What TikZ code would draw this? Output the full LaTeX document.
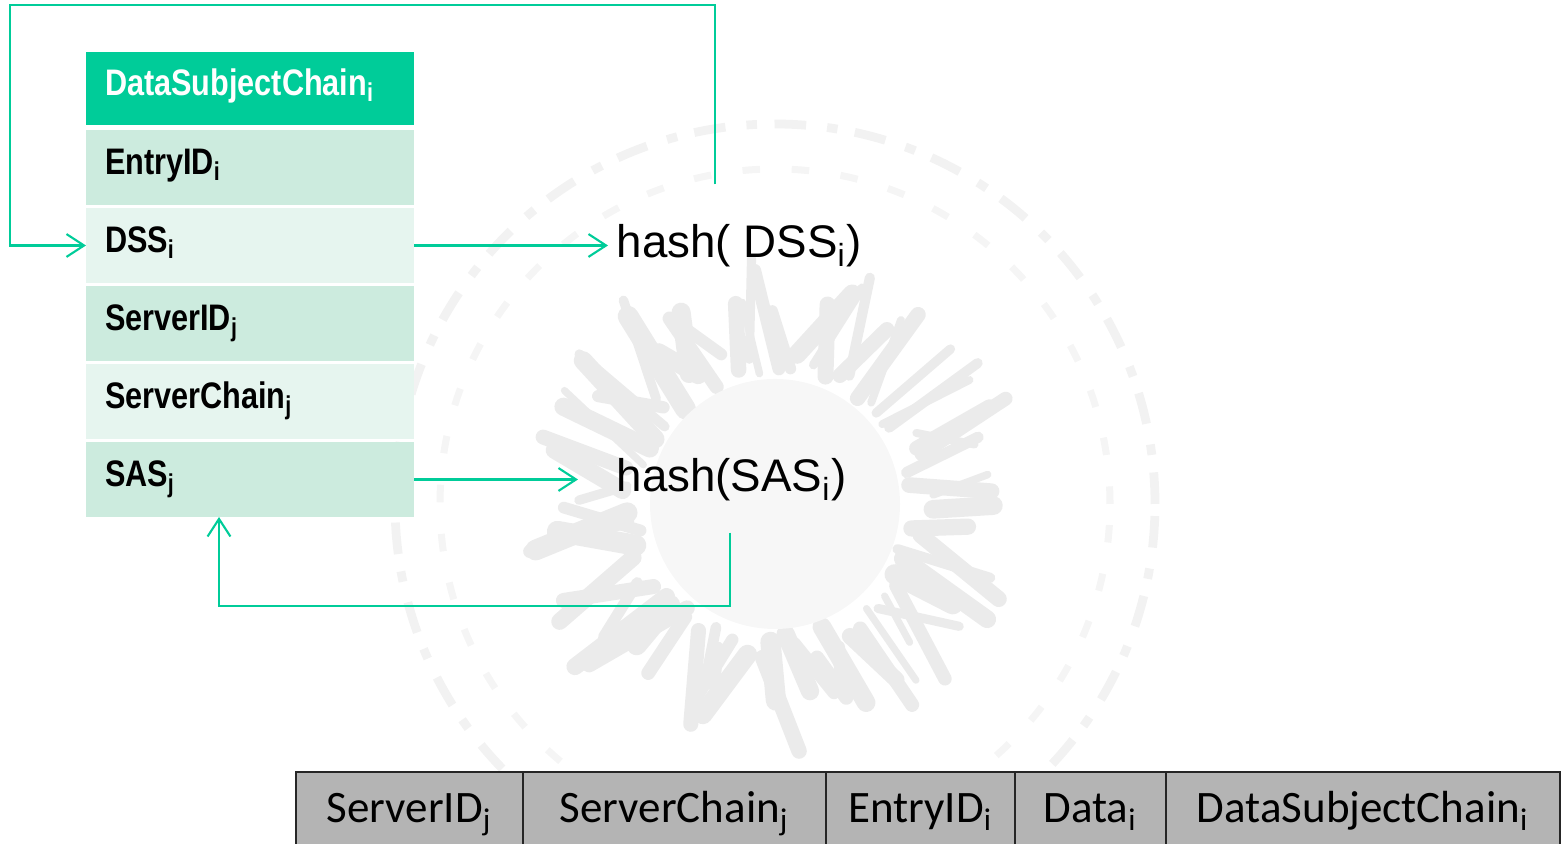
\documentclass[tikz,border=0pt]{standalone}
\usepackage{fontspec}
\setmainfont{Liberation Sans}
\newfontfamily\narrowbf{Liberation Sans}[UprightFont=* Bold, FakeStretch=0.83]
\newfontfamily\cellfont{Carlito}
\usepackage{xcolor}
\usepackage{tikz}
\usetikzlibrary{positioning, arrows.meta, calc}

\definecolor{chaingreen}{RGB}{0,204,153}
\definecolor{rowdark}{RGB}{204,235,222}
\definecolor{rowlight}{RGB}{230,245,239}
\definecolor{cellgray}{RGB}{180,180,180}

\begin{document}
\begin{tikzpicture}[
    node distance=0.03cm,
    field/.style={rectangle, text width=2.9cm, inner xsep=0.19cm, inner ysep=0pt, minimum height=0.75cm, align=left, text height=0.27cm, text depth=0.13cm, outer sep=0pt, font=\narrowbf\fontsize{10.5}{12}\selectfont},
    hash/.style={inner xsep=0.08cm, inner ysep=0pt, text height=0.33cm, text depth=0.08cm, font=\fontsize{13}{15}\selectfont},
    cell/.style={draw=black!85, fill=cellgray, minimum height=0.74cm, inner sep=0pt, outer sep=0pt, text height=0.28cm, text depth=0pt, font=\cellfont\fontsize{12.8}{14}\selectfont},
    flow/.style={draw=chaingreen, line width=0.6pt, -{Straight Barb[length=5pt,width=6.5pt]}}
]
    \useasboundingbox (0,0) rectangle (15.64,8.44);

    % faded seal behind the hashes
    \begin{scope}[shift={(7.75,3.4)}]
        \pgfmathsetseed{11}
        \draw[black!5, line width=2.5pt, dash pattern=on 9pt off 5pt on 3pt off 6pt] (0,0) circle (3.8);
        \draw[black!4, line width=2pt, dash pattern=on 5pt off 9pt] (0,0) circle (3.35);
        \foreach \k in {0,...,69}{
            \pgfmathsetmacro\ang{\k*5.14+rnd*5}
            \pgfmathsetmacro\rin{1.3+rnd*0.3}
            \pgfmathsetmacro\len{1.9+rnd*0.7}
            \pgfmathsetmacro\bend{\ang+rnd*24-12}
            \pgfmathsetmacro\wd{2+rnd*4}
            \draw[black!8, line width=\wd pt, line cap=round] (\ang:\rin) -- (\bend:\len);
        }
        \fill[black!3] (0,0) circle (1.25);
    \end{scope}

    % record of the data subject chain
    \node[field, fill=chaingreen, text=white, minimum height=0.73cm, anchor=north west] (header) at (0.86,7.92) {DataSubjectChain\textsubscript{i}};
    \node[field, fill=rowdark, below=0.05cm of header] (entry) {EntryID\textsubscript{i}};
    \node[field, fill=rowlight, below=of entry] (dss) {DSS\textsubscript{i}};
    \node[field, fill=rowdark, below=of dss] (server) {ServerID\textsubscript{j}};
    \node[field, fill=rowlight, below=of server] (chain) {ServerChain\textsubscript{j}};
    \node[field, fill=rowdark, below=of chain] (sas) {SAS\textsubscript{j}};

    % hashes
    \node[hash, right=1.94cm of dss] (hashdss) {hash( DSS\textsubscript{i})};
    \node[hash, right=1.94cm of sas] (hashsas) {hash(SAS\textsubscript{i})};
    \coordinate (dsstap) at ($(hashdss.north west)+(1.07,0.40)$);
    \coordinate (sastap) at ($(hashsas.south west)+(1.22,-0.32)$);

    \draw[flow] (dss) -- (hashdss);
    \draw[flow, shorten >=0.3cm] (sas) -- (hashsas);
    \draw[flow] (dsstap) -- ++(0,1.79) -| ([xshift=-0.76cm]dss.west) -- (dss.west);
    \draw[flow] (sastap) -- ++(0,-0.73) -| ([xshift=1.33cm]sas.south west);

    % server side entry
    \node[cell, minimum width=2.27cm, anchor=north west] (c1) at (2.96,0.72) {ServerID\textsubscript{j}};
    \node[cell, minimum width=3.03cm, right=0pt of c1] (c2) {ServerChain\textsubscript{j}};
    \node[cell, minimum width=1.89cm, right=0pt of c2] (c3) {EntryID\textsubscript{i}};
    \node[cell, minimum width=1.51cm, right=0pt of c3] (c4) {Data\textsubscript{i}};
    \node[cell, minimum width=3.94cm, right=0pt of c4] (c5) {DataSubjectChain\textsubscript{i}};

\end{tikzpicture}
\end{document}
